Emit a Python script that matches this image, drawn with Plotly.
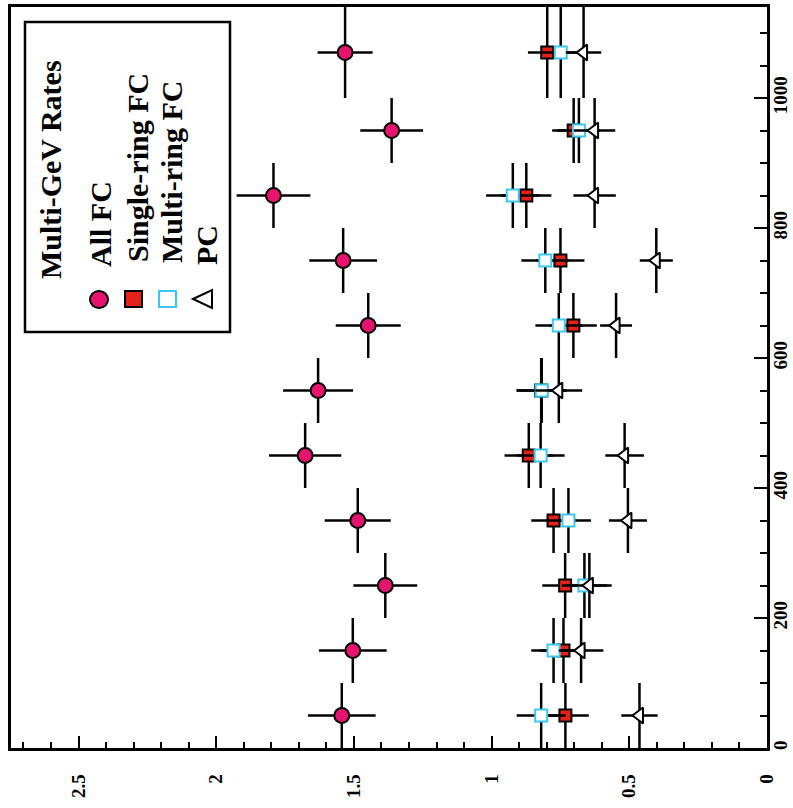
import plotly.graph_objects as go

# Time bins (days) and their half-widths
days = [50, 150, 250, 350, 450, 550, 650, 750, 850, 950, 1070]
days_err = [50, 50, 50, 50, 50, 50, 50, 50, 50, 50, 70]

# Event rates per bin
all_fc = [1.544, 1.504, 1.386, 1.486, 1.677, 1.630, 1.448, 1.539, 1.792, 1.363, 1.532]
all_fc_err = [0.123, 0.123, 0.116, 0.120, 0.131, 0.127, 0.118, 0.123, 0.134, 0.114, 0.100]

single_fc = [0.732, 0.739, 0.733, 0.775, 0.865, 0.820, 0.703, 0.750, 0.874, 0.702, 0.798]
single_fc_err = [0.085, 0.083, 0.083, 0.081, 0.088, 0.090, 0.085, 0.087, 0.091, 0.078, 0.070]

multi_fc = [0.820, 0.775, 0.663, 0.721, 0.822, 0.818, 0.756, 0.805, 0.923, 0.683, 0.749]
multi_fc_err = [0.089, 0.081, 0.082, 0.082, 0.087, 0.090, 0.085, 0.087, 0.097, 0.078, 0.070]

pc = [0.463, 0.675, 0.645, 0.505, 0.517, 0.756, 0.548, 0.402, 0.626, 0.626, 0.666]
pc_err = [0.066, 0.081, 0.081, 0.069, 0.070, 0.085, 0.058, 0.060, 0.077, 0.075, 0.064]

rate_ticks = [0, 0.5, 1, 1.5, 2, 2.5]
rate_labels = ["0", "0.5", "1", "1.5", "2", "2.5"]
day_ticks = [0, 200, 400, 600, 800, 1000]
day_labels = ["0", "200", "400", "600", "800", "1000"]

legend_title = "Multi-GeV Rates"
legend_names = ["All FC", "Single-ring FC", "Multi-ring FC", "PC"]

W, H = 793, 808
ML, MR, MT, MB = 11, 26, 7, 60
PW, PH = W - ML - MR, H - MT - MB
SERIF = "Liberation Serif, Times New Roman, serif"
ERR_KW = dict(color="black", thickness=2.5, width=0)


def px(x, y):
    """Pixel position inside the figure -> paper coordinates."""
    return (x - ML) / PW, (H - MB - y) / PH


fig = go.Figure()


def add_series(rates, errs, name, symbol, size, fill, edge):
    fig.add_trace(go.Scatter(
        x=rates, y=days, mode="markers", name=name,
        error_x=dict(type="data", array=errs, **ERR_KW),
        error_y=dict(type="data", array=days_err, **ERR_KW),
        marker=dict(symbol=symbol, size=size, color=fill,
                    line=dict(color=edge, width=2)),
        showlegend=False,
    ))


add_series(all_fc, all_fc_err, legend_names[0], "circle", 15, "#E6146E", "black")
add_series(single_fc, single_fc_err, legend_names[1], "square", 12, "#E4221A", "black")
add_series(multi_fc, multi_fc_err, legend_names[2], "square", 12, "white", "#3CC8EE")
add_series(pc, pc_err, legend_names[3], "triangle-left", 14, "white", "black")

# ---- legend box, drawn with rotated text ----
shapes = []
x0, y0 = px(25, 332)
x1, y1 = px(230, 22)
shapes.append(dict(type="rect", xref="paper", yref="paper", x0=x0, y0=y0, x1=x1, y1=y1,
                   line=dict(color="black", width=2.5), fillcolor="white", layer="above"))

# circle swatch
cx0, cy0 = px(90, 308)
cx1, cy1 = px(108, 291)
shapes.append(dict(type="circle", xref="paper", yref="paper", x0=cx0, y0=cy0, x1=cx1, y1=cy1,
                   line=dict(color="black", width=2), fillcolor="#E6146E", layer="above"))
# filled square swatch
sx0, sy0 = px(125, 307)
sx1, sy1 = px(142, 291)
shapes.append(dict(type="rect", xref="paper", yref="paper", x0=sx0, y0=sy0, x1=sx1, y1=sy1,
                   line=dict(color="black", width=2), fillcolor="#E4221A", layer="above"))
# open square swatch
ox0, oy0 = px(159, 307)
ox1, oy1 = px(176, 291)
shapes.append(dict(type="rect", xref="paper", yref="paper", x0=ox0, y0=oy0, x1=ox1, y1=oy1,
                   line=dict(color="#3CC8EE", width=2), fillcolor="white", layer="above"))
# triangle swatch
t1 = px(193, 299)
t2 = px(212, 290)
t3 = px(212, 308)
shapes.append(dict(type="path", xref="paper", yref="paper",
                   path=f"M {t1[0]} {t1[1]} L {t2[0]} {t2[1]} L {t3[0]} {t3[1]} Z",
                   line=dict(color="black", width=2), fillcolor="white", layer="above"))

annotations = []
label_pos = [(51, 170, legend_title, 30)]
label_pos += [(100, 224, legend_names[0], 30), (137, 168, legend_names[1], 30),
              (171, 172, legend_names[2], 30), (206, 245, legend_names[3], 30)]
for lx, ly, txt, fs in label_pos:
    ax, ay = px(lx, ly)
    annotations.append(dict(x=ax, y=ay, xref="paper", yref="paper", text=txt,
                            textangle=-90, showarrow=False, xanchor="center", yanchor="middle",
                            font=dict(family=SERIF, size=fs, color="black", weight="bold")))

fig.update_layout(
    width=W, height=H,
    margin=dict(l=ML, r=MR, t=MT, b=MB, autoexpand=False),
    paper_bgcolor="white", plot_bgcolor="white",
    shapes=shapes, annotations=annotations,
    showlegend=False,
)

fig.update_xaxes(
    range=[PW / 275.4, 0], showgrid=False, zeroline=False,
    showline=True, linecolor="black", linewidth=2.5, mirror=True,
    ticks="inside", ticklen=12, tickwidth=2, tickcolor="black",
    tickvals=rate_ticks, ticktext=rate_labels, tickangle=-90,
    ticklabelstandoff=16,
    tickfont=dict(family=SERIF, size=19, color="black", weight="bold"),
    minor=dict(dtick=0.1, ticks="inside", ticklen=6, tickwidth=2, tickcolor="black", showgrid=False),
)
fig.update_yaxes(
    range=[0, PH / 0.65], side="right", showgrid=False, zeroline=False,
    showline=True, linecolor="black", linewidth=2.5, mirror=True,
    ticks="inside", ticklen=13, tickwidth=2, tickcolor="black",
    tickvals=day_ticks, ticktext=day_labels, tickangle=-90,
    ticklabelstandoff=-6,
    tickfont=dict(family=SERIF, size=19, color="black", weight="bold"),
    minor=dict(dtick=50, ticks="inside", ticklen=7, tickwidth=2, tickcolor="black", showgrid=False),
)

fig.write_html("out.html")
